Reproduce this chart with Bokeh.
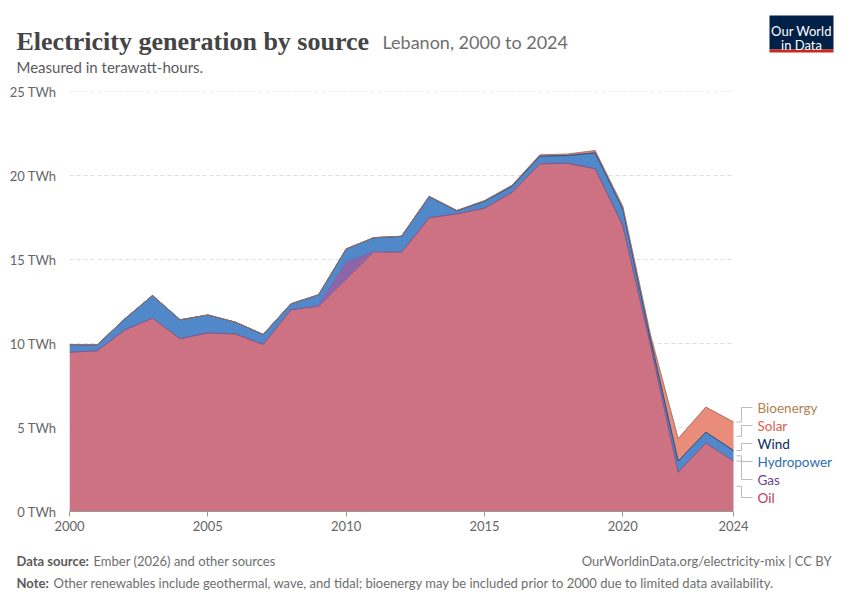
from bokeh.plotting import figure
from bokeh.layouts import column
from bokeh.models import Label, FixedTicker, PrintfTickFormatter, Range1d, ColumnDataSource
from bokeh.embed import file_html
from bokeh.resources import INLINE
import numpy as np

years = list(range(2000, 2025))
oil = [9.48, 9.56, 10.81, 11.51, 10.28, 10.63, 10.57, 9.94, 12.0, 12.16,
       13.8, 15.43, 15.43, 17.48, 17.72, 18.05, 19.0, 20.7, 20.73, 20.4,
       17.02, 9.9, 2.34, 4.07, 3.0]
gas = [0, 0, 0, 0, 0, 0, 0, 0, 0, 0.12,
       1.03, 0.03, 0, 0, 0, 0, 0, 0, 0, 0,
       0, 0, 0, 0, 0]
hydro = [0.44, 0.36, 0.66, 1.35, 1.13, 1.07, 0.7, 0.6, 0.36, 0.62,
         0.8, 0.84, 0.95, 1.27, 0.18, 0.42, 0.37, 0.45, 0.46, 0.95,
         0.98, 0.35, 0.66, 0.65, 0.63]
wind = [0, 0, 0, 0, 0, 0, 0, 0, 0, 0,
        0, 0, 0, 0, 0, 0, 0.002, 0.002, 0.002, 0.002,
        0.002, 0.002, 0.002, 0.002, 0.002]
solar = [0, 0, 0, 0, 0, 0, 0, 0, 0, 0,
         0.001, 0.002, 0.004, 0.008, 0.015, 0.03, 0.05, 0.07, 0.08, 0.12,
         0.15, 0.25, 1.33, 1.49, 1.69]
bioenergy = [0, 0, 0, 0, 0, 0, 0, 0, 0, 0,
             0, 0, 0.01, 0.01, 0.01, 0.01, 0.01, 0.01, 0.01, 0.02,
             0.01, 0.01, 0.01, 0.01, 0.01]

series = ["Oil", "Gas", "Hydropower", "Wind", "Solar", "Bioenergy"]
values = [oil, gas, hydro, wind, solar, bioenergy]
fills = ["#cc7282", "#8e65a8", "#5088ca", "#1f3d73", "#e98c7a", "#c09062"]
edges = ["#a0566a", "#6e4a8a", "#3d6ea8", "#0b2a5c", "#c86a58", "#8d7466"]
label_colors = ["#c0395a", "#6e3f93", "#2e6db8", "#0a2a5e", "#e0604d", "#b3804f"]
y_ticks = [0, 5, 10, 15, 20, 25]
x_ticks = [2000, 2005, 2010, 2015, 2020, 2024]
# legend label rows, page pixels from top (Oil ... Bioenergy)
label_rows = [497, 479, 461, 443, 425, 407]

FONT = "Lato"
W = 846
PX_PER_YEAR = 27.67
PX_PER_TWH = 16.8
HEAD_H, MAIN_H, FOOT_H = 78, 462, 56


def text_panel(h):
    f = figure(width=W, height=h, x_range=Range1d(0, W), y_range=Range1d(h, 0),
               x_axis_type=None, y_axis_type=None, output_backend="svg",
               toolbar_location=None, min_border=0, frame_align=False)
    f.outline_line_color = None
    f.grid.visible = False
    return f


def add_text(f, text, x, y, size, color, font=FONT, style="normal", align="left"):
    f.add_layout(Label(x=x, y=y, text=text, text_font=font, text_font_size=size,
                       text_color=color, text_font_style=style,
                       text_align=align, text_baseline="alphabetic"))


# header
head = text_panel(HEAD_H)
add_text(head, "Electricity generation by source", 16, 41, "26px", "#444444",
         font="Liberation Serif", style="bold")
add_text(head, "Lebanon, 2000 to 2024", 382, 41, "18px", "#6e6e6e")
add_text(head, "Measured in terawatt-hours.", 16, 66, "15px", "#5b5b5b")
head.quad(left=[769], right=[833], top=[15], bottom=[49], fill_color="#002147",
          line_color=None)
head.quad(left=[769], right=[833], top=[49], bottom=[52], fill_color="#ce261e",
          line_color=None)
add_text(head, "Our World", 801, 30, "13px", "white", align="center")
add_text(head, "in Data", 801, 44, "13px", "white", align="center")

# main chart; frame extends right so the end labels are inside it
x_max = 2024 + (W - 733) / PX_PER_YEAR
p = figure(width=W, height=MAIN_H, x_range=Range1d(2000, x_max),
           y_range=Range1d(0, 25), output_backend="svg", toolbar_location=None,
           min_border_left=69, min_border_right=0, min_border_top=13,
           min_border_bottom=29, frame_align=False)
p.outline_line_color = None

# dashed grid lines, only across the data span
grid_y = y_ticks[1:]
p.segment(x0=[2000] * len(grid_y), x1=[2024] * len(grid_y), y0=grid_y, y1=grid_y,
          line_color="#dddddd", line_width=1, line_dash="4 3")

src = ColumnDataSource(dict(year=years, **dict(zip(series, values))))
p.varea_stack(series, x="year", source=src, color=fills)
cum = np.cumsum(np.array(values), axis=0)
for top, c in zip(cum, edges):
    p.line(years, top, line_color=c, line_width=0.8, line_alpha=0.8)

p.xaxis.ticker = FixedTicker(ticks=x_ticks)
p.xaxis.bounds = (2000, 2024)
p.xaxis.axis_line_color = "#999999"
p.xaxis.major_tick_line_color = "#999999"
p.xaxis.major_tick_out = 5
p.xaxis.major_tick_in = 0
p.xaxis.minor_tick_line_color = None
p.xaxis.major_label_standoff = 4
p.yaxis.ticker = FixedTicker(ticks=y_ticks)
p.yaxis.formatter = PrintfTickFormatter(format="%d TWh")
p.yaxis.axis_line_color = None
p.yaxis.major_tick_line_color = None
p.yaxis.minor_tick_line_color = None
p.yaxis.major_label_standoff = 7
for ax in (p.xaxis, p.yaxis):
    ax.major_label_text_font = FONT
    ax.major_label_text_font_size = "13px"
    ax.major_label_text_color = "#666666"
p.grid.visible = False

# end labels with elbow connectors
last = cum[:, -1]
bottoms = np.concatenate([[0], last[:-1]])
mids = (last + bottoms) / 2
x_end = years[-1]
start = x_end + 3 / PX_PER_YEAR
elbow = x_end + 8 / PX_PER_YEAR
tip = x_end + 19 / PX_PER_YEAR
for name, mid, row, col in zip(series, mids, label_rows, label_colors):
    ly = (511 - row) / PX_PER_TWH
    p.line([start, elbow, elbow, tip], [mid, mid, ly, ly], line_color="#bbbbbb",
           line_width=1)
    p.add_layout(Label(x=x_end + 24 / PX_PER_YEAR, y=ly, text=name,
                       text_font=FONT, text_font_size="13.5px", text_color=col,
                       text_baseline="middle"))

# footer
foot = text_panel(FOOT_H)
add_text(foot, "Data source:", 16, 20, "13px", "#5b5b5b", style="bold")
add_text(foot, "Ember (2026) and other sources", 93, 20, "13px", "#6e6e6e")
add_text(foot, "OurWorldinData.org/electricity-mix | CC BY", 831, 20, "13px",
         "#6e6e6e", align="right")
add_text(foot, "Note:", 16, 42, "13px", "#5b5b5b", style="bold")
add_text(foot, "Other renewables include geothermal, wave, and tidal; bioenergy may be "
         "included prior to 2000 due to limited data availability.",
         53, 42, "13px", "#6e6e6e")

layout = column(head, p, foot, spacing=0)
open("out.html", "w").write(file_html(layout, INLINE))
